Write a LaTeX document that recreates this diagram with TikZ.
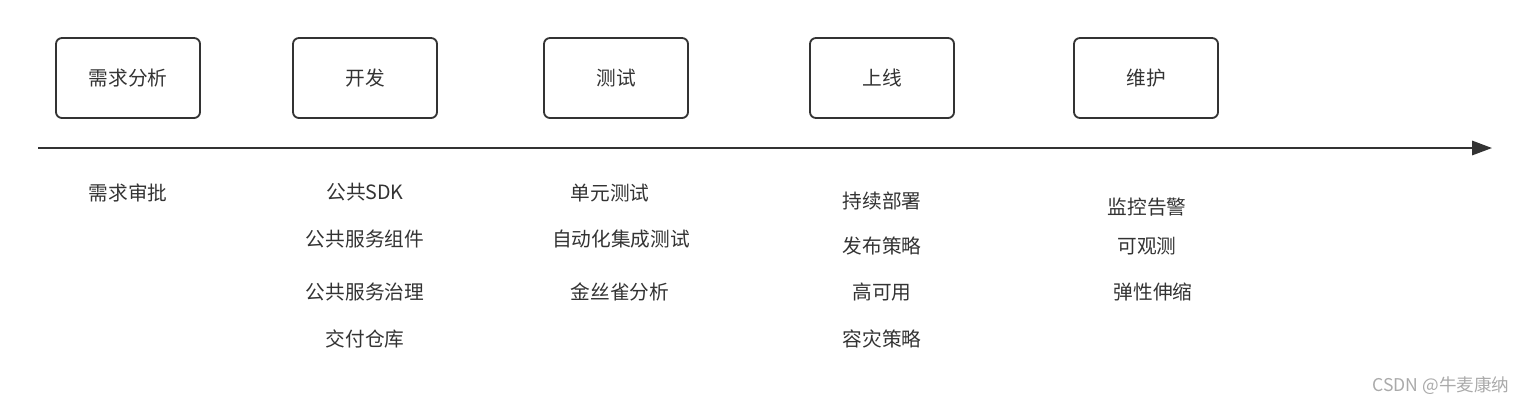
\documentclass[tikz,border=0pt]{standalone}
\usepackage{fontspec}
\newfontfamily\cjk{Noto Sans CJK SC}
\usetikzlibrary{arrows.meta}
\definecolor{inkgray}{RGB}{51,51,51}
\definecolor{markgray}{RGB}{170,170,170}

\begin{document}
\begin{tikzpicture}[x=0.025cm, y=-0.025cm,
  stagebox/.style={draw=inkgray, line width=1.3pt, rounded corners=0.15cm,
    minimum width=3.6cm, minimum height=2.0cm, text=inkgray,
    font=\cjk\fontsize{14}{16}\selectfont},
  item/.style={text=inkgray, inner sep=0pt, font=\cjk\fontsize{14}{16}\selectfont}]
  \useasboundingbox (0,0) rectangle (1524,404);
  % Stages on top
  \node[stagebox] (req) at (128,78) {需求分析};
  \node[stagebox] (dev) at (365,78) {开发};
  \node[stagebox] (test) at (616,78) {测试};
  \node[stagebox] (rel) at (882,78) {上线};
  \node[stagebox] (ops) at (1146,78) {维护};
  % Time axis
  \coordinate (axstart) at (38,148);
  \coordinate (axend) at (1492,148);
  \draw[-{Triangle[length=0.5cm, width=0.36cm]}, line width=1.4pt, inkgray] (axstart) -- (axend);
  % Requirements
  \node[item] (req1) at (128,193) {需求审批};
  % Development
  \node[item] (dev1) at (365,192) {公共SDK};
  \node[item] (dev2) at (365,239) {公共服务组件};
  \node[item] (dev3) at (365,292) {公共服务治理};
  \node[item] (dev4) at (365,339) {交付仓库};
  % Testing
  \node[item] (test1) at (610,193) {单元测试};
  \node[item] (test2) at (621,239) {自动化集成测试};
  \node[item] (test3) at (620,292) {金丝雀分析};
  % Release
  \node[item] (rel1) at (882,201) {持续部署};
  \node[item] (rel2) at (882,246) {发布策略};
  \node[item] (rel3) at (882,292) {高可用};
  \node[item] (rel4) at (882,339) {容灾策略};
  % Maintenance
  \node[item] (ops1) at (1147,207) {监控告警};
  \node[item] (ops2) at (1147,246) {可观测};
  \node[item] (ops3) at (1153,292) {弹性伸缩};
  % Watermark
  \node[text=markgray, inner sep=0pt, font=\cjk\fontsize{12.5}{14}\selectfont] (mark) at (1441,386) {CSDN @牛麦康纳};
\end{tikzpicture}
\end{document}
